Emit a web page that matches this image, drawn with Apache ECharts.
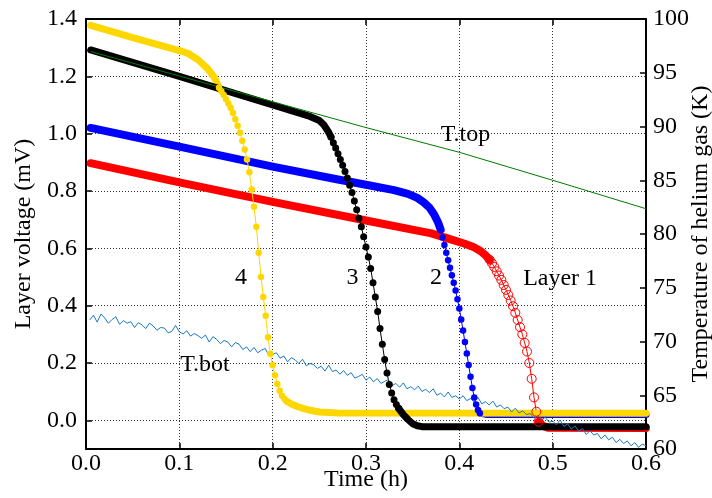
<!DOCTYPE html>
<html><head><meta charset="utf-8">
<script src="https://cdn.jsdelivr.net/npm/echarts@6/dist/echarts.min.js"></script>
<style>html,body{margin:0;padding:0;background:#fff}#c{width:712px;height:498px}</style>
</head><body><div id="c"></div>
<script>
// ---- tick labels ----
const xTicks = [0, 0.1, 0.2, 0.3, 0.4, 0.5, 0.6];
const leftTicks = [0, 0.2, 0.4, 0.6, 0.8, 1.0, 1.2, 1.4];
const rightTicks = [60, 65, 70, 75, 80, 85, 90, 95, 100];

// ---- Layer 4 (yellow) [time h, voltage mV] ----
const layer4Slow = [[0.005,1.378],[0.05,1.335],[0.1,1.29],[0.11,1.279],[0.12,1.258],[0.13,1.228],[0.1375,1.196],[0.1425,1.16]];
const layer4Drop = [[0.1425,1.16],[0.145,1.148],[0.1475,1.135],[0.15,1.12],[0.1525,1.105],[0.155,1.09],[0.1575,1.072],[0.16,1.05],[0.1625,1.028],[0.165,1.003],[0.1675,0.975],[0.17,0.945],[0.1725,0.91],[0.175,0.865],[0.1775,0.805],[0.18,0.745],[0.1825,0.675],[0.185,0.585],[0.1875,0.5],[0.19,0.43],[0.1925,0.365],[0.195,0.29],[0.1975,0.232],[0.2,0.192],[0.2025,0.157],[0.205,0.127],[0.2075,0.103],[0.21,0.086],[0.2125,0.075],[0.215,0.067]];
const layer4Flat = [[0.215,0.067],[0.22,0.057],[0.225,0.05],[0.23,0.044],[0.24,0.035],[0.25,0.029],[0.27,0.026],[0.6,0.025]];

// ---- Layer 3 (black) ----
const layer3Slow = [[0.005,1.292],[0.1,1.2],[0.2,1.1],[0.24,1.06],[0.25,1.046],[0.255,1.03],[0.26,1.005],[0.2625,0.988]];
const layer3Drop = [[0.2625,0.988],[0.265,0.968],[0.2675,0.95],[0.27,0.93],[0.2725,0.91],[0.275,0.89],[0.2775,0.868],[0.28,0.845],[0.2825,0.82],[0.285,0.795],[0.2875,0.765],[0.29,0.735],[0.2925,0.705],[0.295,0.675],[0.2975,0.64],[0.3,0.605],[0.3025,0.57],[0.305,0.53],[0.3075,0.48],[0.31,0.43],[0.3125,0.38],[0.315,0.32],[0.3175,0.265],[0.32,0.212],[0.3225,0.165],[0.325,0.125],[0.3275,0.095],[0.33,0.072],[0.3325,0.055],[0.335,0.042]];
const layer3Flat = [[0.335,0.042],[0.34,0.02],[0.345,0.003],[0.35,-0.012],[0.355,-0.019],[0.36,-0.022],[0.6,-0.022]];

// ---- Layer 2 (blue) ----
const layer2Slow = [[0.005,1.02],[0.1,0.955],[0.2,0.885],[0.27,0.84],[0.3,0.822],[0.33,0.803],[0.345,0.79],[0.355,0.776],[0.362,0.76],[0.368,0.742],[0.373,0.718],[0.377,0.692],[0.38,0.665]];
const layer2Drop = [[0.38,0.665],[0.382,0.638],[0.384,0.612],[0.386,0.585],[0.388,0.558],[0.39,0.532],[0.392,0.506],[0.394,0.48],[0.396,0.453],[0.398,0.422],[0.4,0.39],[0.402,0.352],[0.404,0.313],[0.406,0.273],[0.408,0.233],[0.41,0.193],[0.412,0.152],[0.414,0.113],[0.416,0.08],[0.418,0.055],[0.42,0.036],[0.422,0.025]];
const layer2Flat = [[0.422,0.025],[0.43,0.02],[0.6,0.02]];

// ---- Layer 1 (red) ----
const layer1Slow = [[0.005,0.897],[0.1,0.83],[0.2,0.762],[0.3,0.697],[0.37,0.652],[0.39,0.632],[0.405,0.617],[0.415,0.605],[0.423,0.59],[0.428,0.576],[0.4325,0.56]];
const layer1Drop = [[0.4325,0.56],[0.435,0.548],[0.4375,0.535],[0.44,0.52],[0.4425,0.505],[0.445,0.49],[0.4475,0.472],[0.45,0.455],[0.4525,0.437],[0.455,0.418],[0.4575,0.398],[0.46,0.375],[0.4625,0.35],[0.465,0.325],[0.4675,0.3],[0.47,0.27],[0.4725,0.24],[0.475,0.2],[0.4775,0.145],[0.48,0.08],[0.4825,0.03],[0.485,-0.005]];
const layer1Flat = [[0.485,-0.005],[0.49,-0.02],[0.495,-0.026],[0.6,-0.027]];

// ---- Helium gas temperatures (K) ----
const tTop = [[0.005,96.97],[0.1,94.7],[0.2,92.3],[0.3,89.9],[0.4,87.6],[0.5,85.0],[0.6,82.35]];
const tBotStart = 0.004, tBotStep = 0.004;
const tBotValues = [
72.0,72.45,71.8,72.55,72.2,71.7,72.05,72.3,71.6,71.95,
71.7,71.85,71.3,71.75,71.55,71.2,71.7,71.45,71.05,71.3,
71.25,70.8,70.95,71.5,70.9,70.7,71.0,70.5,70.75,70.55,
70.3,70.6,69.95,70.45,70.2,69.8,70.1,69.95,69.5,69.9,
69.75,69.25,69.5,69.05,69.45,68.95,69.2,69.35,68.7,68.8,
68.95,68.45,68.65,68.1,68.5,68.3,67.95,68.35,67.75,67.95,
67.85,67.5,67.7,67.25,67.8,67.2,67.35,66.95,67.3,66.85,
67.1,66.6,66.75,66.95,66.4,66.7,66.25,66.55,66.1,66.3,
66.45,65.9,66.1,65.75,66.15,65.6,65.8,65.5,65.85,65.35,
65.55,65.25,65.6,65.0,65.2,64.85,65.3,64.8,64.95,64.65,
64.95,64.5,64.7,64.35,64.8,64.2,64.4,64.1,64.45,63.9,
64.1,63.75,63.9,63.45,63.8,63.35,63.55,63.2,63.3,62.85,
63.05,62.7,62.95,62.5,62.6,62.25,62.7,62.1,62.35,61.85,
62.15,61.65,61.9,61.35,61.7,61.3,61.45,60.95,61.3,60.85,
61.1,60.6,60.9,60.5,60.75,60.3,60.6,60.15,60.45,60.3];

// ---- annotations [text, time, voltage] ----
const annoText = ['T.top', 'Layer 1', '2', '3', '4', 'T.bot'];
const annoT = [0.4066, 0.508, 0.375, 0.2855, 0.166, 0.1275];
const annoV = [0.996, 0.4935, 0.497, 0.497, 0.497, 0.1936];

const FONT = 'Liberation Serif, Times New Roman, serif';
const tBot = tBotValues.map((v, i) => [+(tBotStart + i * tBotStep).toFixed(4), v]);

function band(data, color, width) {
  return { type: 'line', data, symbol: 'none', silent: true, animation: false,
    lineStyle: { color, width, cap: 'round', join: 'round' } };
}
function drop(data, color, size, hollow) {
  return { type: 'line', data, symbol: 'circle', symbolSize: size, showAllSymbol: true, silent: true, animation: false,
    itemStyle: hollow ? { color: 'rgba(0,0,0,0)', borderColor: color, borderWidth: 1 } : { color },
    lineStyle: { color, width: 1 } };
}

const chart = echarts.init(document.getElementById('c'), null, { renderer: 'canvas' });
const axisLine = { show: true, onZero: false, lineStyle: { color: '#000', width: 2 } };
const tick = { show: true, inside: true, length: 6, lineStyle: { color: '#000', width: 1.5 } };
const grid = { type: [1, 2], color: '#333', width: 1 };
const txt = { fontFamily: FONT, fontSize: 24, color: '#000' };

chart.setOption({
  animation: false,
  backgroundColor: '#fff',
  grid: { left: 86, right: 66, top: 19, bottom: 49, containLabel: false, outerBoundsMode: 'none' },
  xAxis: [
    { type: 'value', position: 'bottom', min: 0, max: 0.6, interval: 0.1,
      axisLine, axisTick: Object.assign({}, tick, { customValues: xTicks }),
      axisLabel: Object.assign({ customValues: xTicks, formatter: v => v.toFixed(1), margin: 3 }, txt),
      splitLine: { show: true, lineStyle: grid },
      name: 'Time (h)', nameLocation: 'middle', nameGap: 19, nameMoveOverlap: false, nameTextStyle: txt },
    { type: 'value', position: 'top', min: 0, max: 0.6, interval: 0.1,
      axisLine, axisTick: tick, axisLabel: { show: false }, splitLine: { show: false } }
  ],
  yAxis: [
    { type: 'value', position: 'left', min: -0.1, max: 1.4, interval: 0.1,
      axisLine, axisTick: Object.assign({}, tick, { customValues: leftTicks }),
      axisLabel: Object.assign({ customValues: leftTicks, formatter: v => v.toFixed(1), margin: 9 }, txt),
      splitLine: { show: true, lineStyle: grid },
      name: 'Layer voltage (mV)', nameLocation: 'middle', nameGap: 50, nameMoveOverlap: false, nameTextStyle: txt },
    { type: 'value', position: 'right', min: 60, max: 100, interval: 5,
      axisLine, axisTick: Object.assign({}, tick, { customValues: rightTicks }),
      axisLabel: Object.assign({ customValues: rightTicks, margin: 7 }, txt),
      splitLine: { show: false },
      name: 'Temperature of helium gas (K)', nameLocation: 'middle', nameGap: 43, nameMoveOverlap: false, nameTextStyle: txt }
  ],
  series: [
    band(layer1Slow, '#ff0000', 8), band(layer1Flat, '#ff0000', 8), drop(layer1Drop, '#ff0000', 9, true),
    band(layer2Slow, '#0000ff', 8), band(layer2Flat, '#0000ff', 7), drop(layer2Drop, '#0000ff', 6.5, false),
    band(layer4Slow, '#ffd700', 7), band(layer4Flat, '#ffd700', 7), drop(layer4Drop, '#ffd700', 6.5, false),
    band(layer3Slow, '#000000', 7), band(layer3Flat, '#000000', 7), drop(layer3Drop, '#000000', 7, false),
    { type: 'line', yAxisIndex: 1, data: tBot, symbol: 'none', silent: true, lineStyle: { color: '#1a78c2', width: 1 } },
    { type: 'line', yAxisIndex: 1, data: tTop, symbol: 'none', silent: true, lineStyle: { color: '#007a00', width: 1 } },
    { type: 'scatter', symbolSize: 0, silent: true, itemStyle: { opacity: 1 },
      data: annoText.map((t, i) => ({ name: t, value: [annoT[i], annoV[i]] })),
      label: Object.assign({ show: true, position: 'inside', formatter: '{b}', textBorderWidth: 0, opacity: 1 }, txt) }
  ]
});
</script></body></html>
